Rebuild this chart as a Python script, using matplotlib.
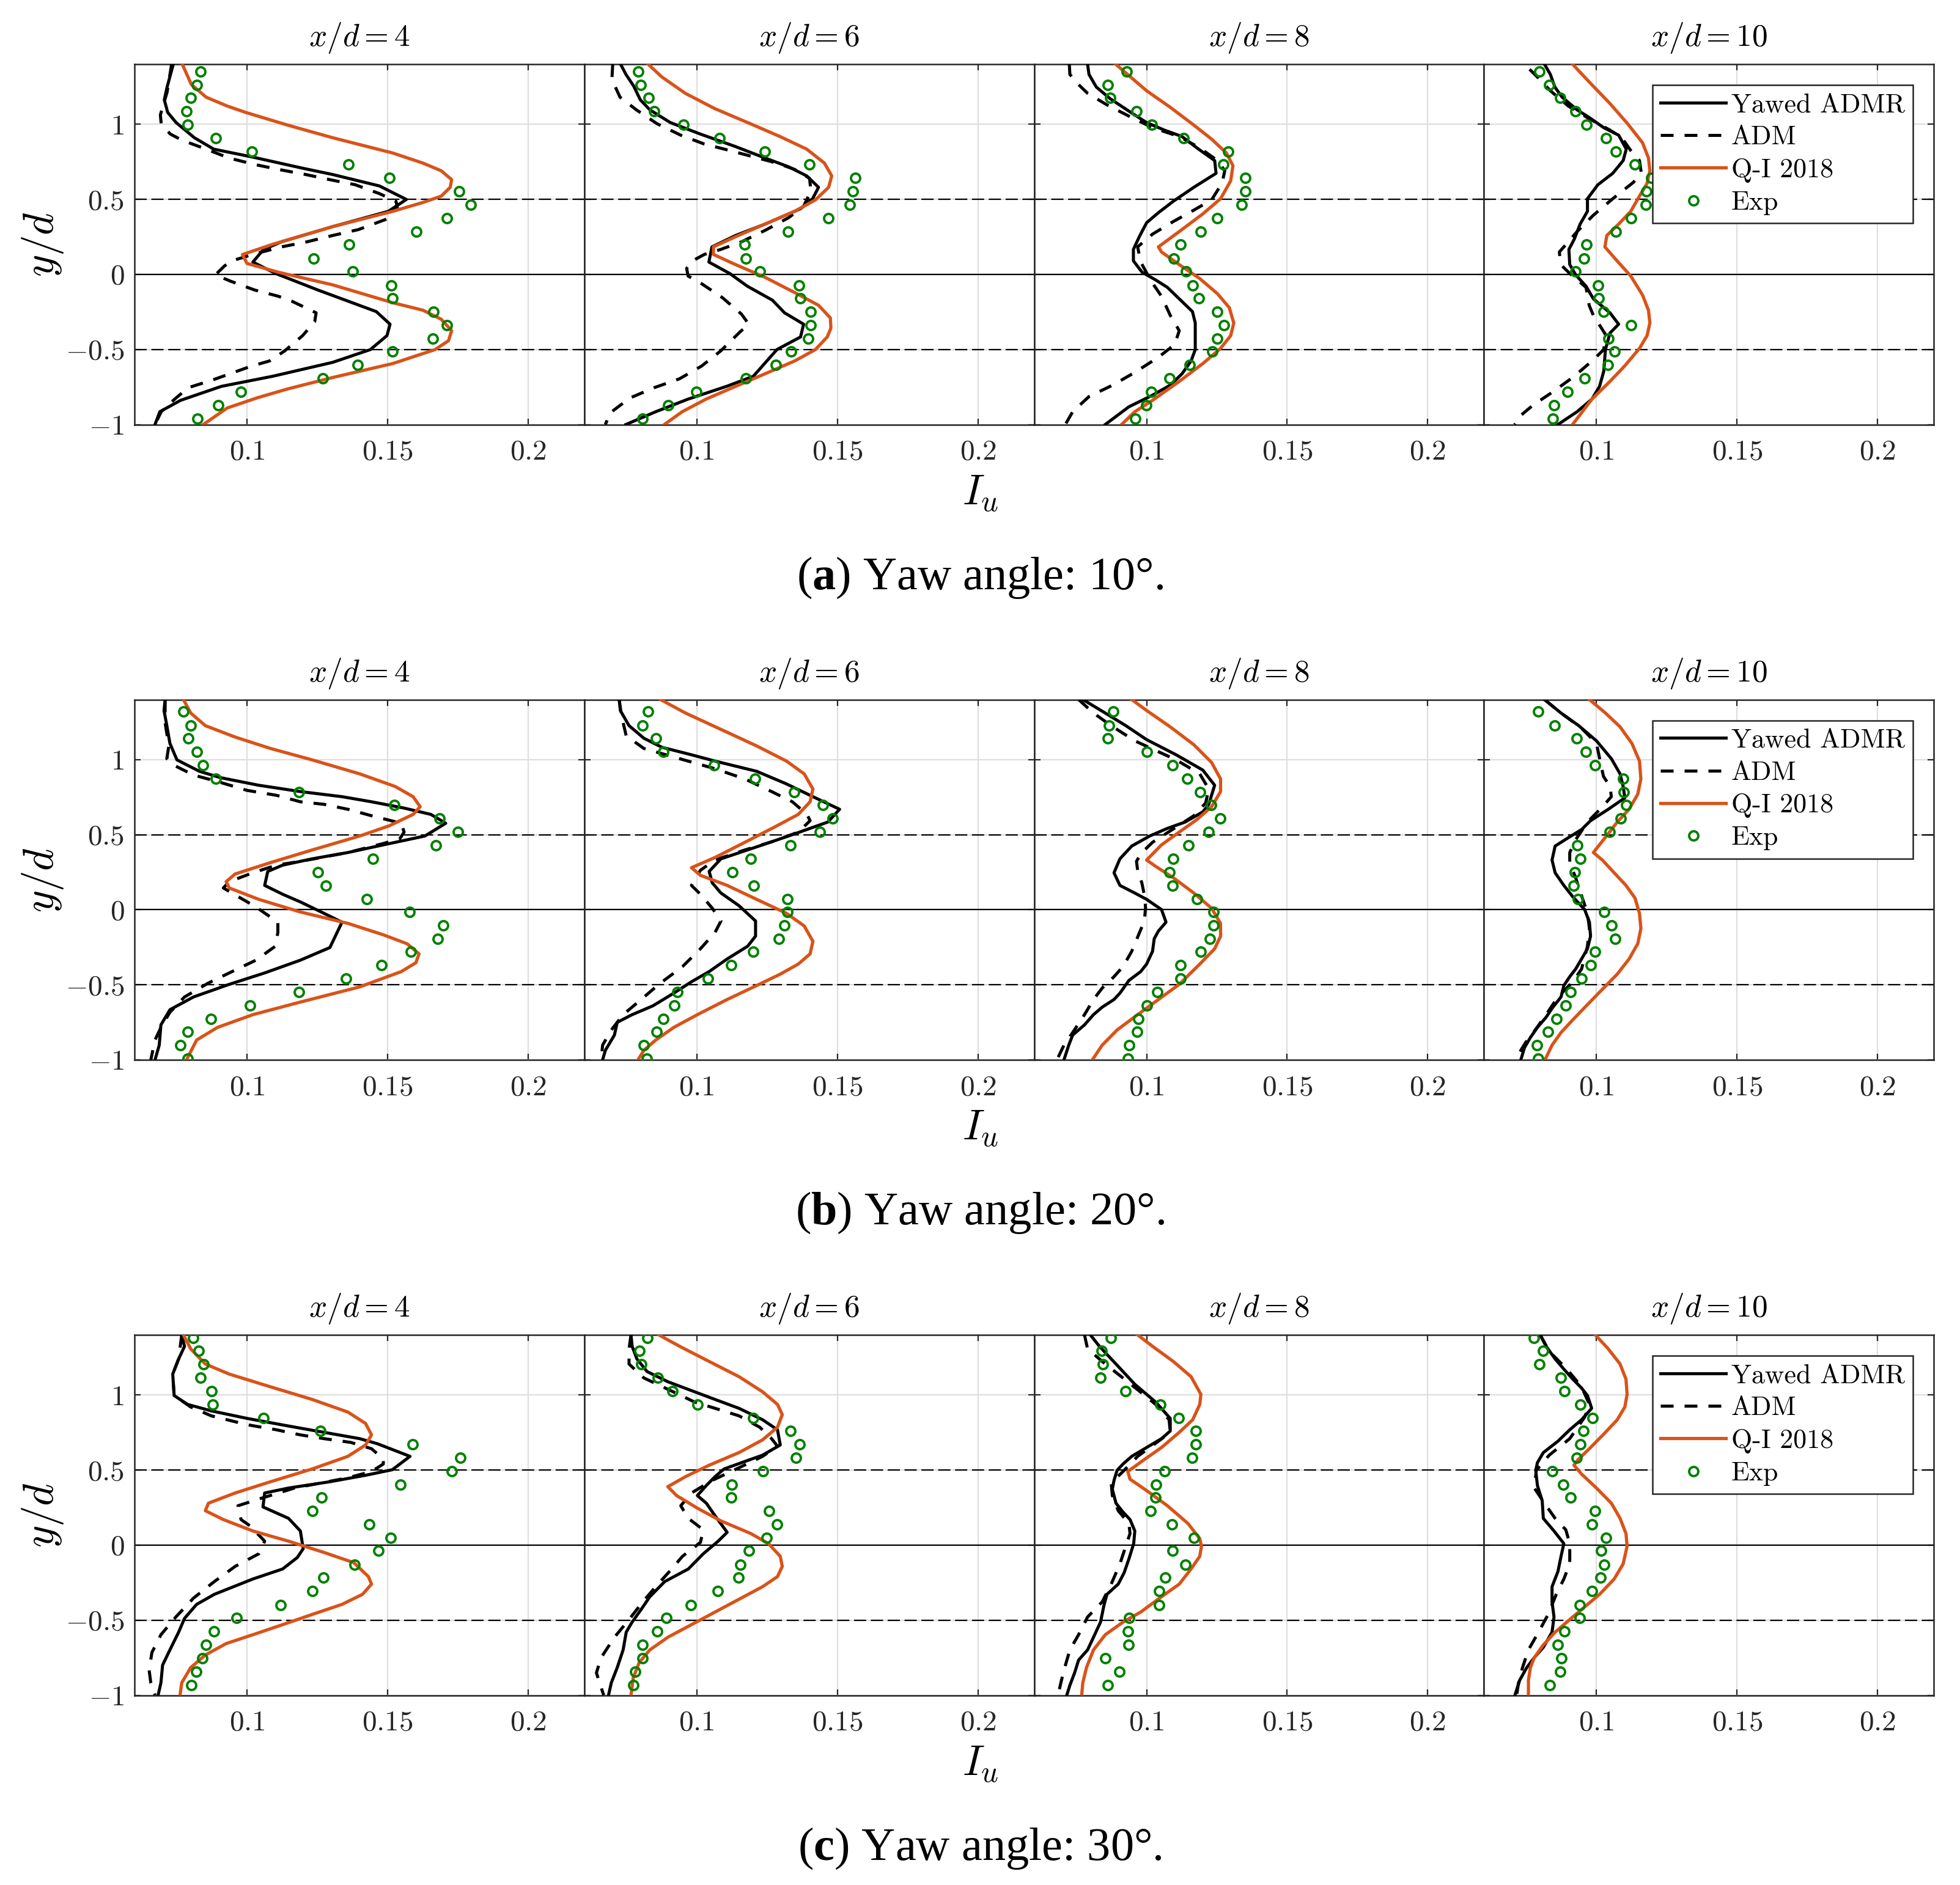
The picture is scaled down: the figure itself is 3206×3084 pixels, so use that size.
import matplotlib
matplotlib.use("Agg")
import matplotlib.pyplot as plt

plt.rcParams['mathtext.fontset'] = 'cm'
plt.rcParams['font.family'] = ['cmr10', 'DejaVu Serif']
plt.rcParams['axes.formatter.use_mathtext'] = True
plt.rcParams['mathtext.rm'] = 'Liberation Serif'
plt.rcParams['mathtext.bf'] = 'Liberation Serif:bold'
plt.rcParams['mathtext.it'] = 'Liberation Serif:italic'

# ---------------- data ----------------
xd_labels = ['4', '6', '8', '10']
captions = [r'($\mathbf{a}$) Yaw angle: 10°.', r'($\mathbf{b}$) Yaw angle: 20°.', r'($\mathbf{c}$) Yaw angle: 30°.']
series_labels = ['Yawed ADMR', 'ADM', 'Q-I 2018', 'Exp']
x_ticks = [0.1, 0.15, 0.2]
x_tick_labels = [r'$0.1$', r'$0.15$', r'$0.2$']
y_ticks = [-1, -0.5, 0, 0.5, 1]
y_tick_labels = [r'$-1$', r'$-0.5$', r'$0$', r'$0.5$', r'$1$']
ref_solid_y = [0.0]
ref_dashed_y = [-0.5, 0.5]

# experimental y positions (per row)
a_exp_y = [1.353, 1.263, 1.175, 1.087, 0.998, 0.908, 0.819, 0.731, 0.641, 0.552, 0.462, 0.374, 0.286, 0.197, 0.107, 0.019, -0.072, -0.160, -0.249, -0.339, -0.427, -0.515, -0.604, -0.694, -0.782, -0.871, -0.961]
b_exp_y = [1.319, 1.229, 1.142, 1.052, 0.963, 0.871, 0.785, 0.697, 0.610, 0.520, 0.430, 0.339, 0.251, 0.162, 0.072, -0.015, -0.103, -0.193, -0.281, -0.370, -0.460, -0.549, -0.639, -0.728, -0.814, -0.902, -0.992]
c_exp_y = [1.380, 1.294, 1.206, 1.117, 1.026, 0.937, 0.847, 0.760, 0.670, 0.583, 0.493, 0.404, 0.316, 0.229, 0.139, 0.050, -0.039, -0.129, -0.216, -0.304, -0.398, -0.484, -0.574, -0.665, -0.754, -0.843, -0.931]

# ----- (a) yaw 10 -----
a4_ya_x = [0.0738, 0.0716, 0.0706, 0.0718, 0.0748, 0.0813, 0.0882, 0.1016, 0.1198, 0.1305, 0.1471, 0.1567, 0.1503, 0.1305, 0.1123, 0.1059, 0.1021, 0.1102, 0.1252, 0.1460, 0.1509, 0.1498, 0.1439, 0.1305, 0.1091, 0.0909, 0.0764, 0.0690, 0.0673]
a4_ya_y = [1.4, 1.248, 1.163, 1.079, 1.011, 0.910, 0.834, 0.783, 0.707, 0.665, 0.589, 0.499, 0.420, 0.318, 0.217, 0.166, 0.082, 0.006, -0.104, -0.248, -0.332, -0.408, -0.501, -0.586, -0.679, -0.746, -0.839, -0.915, -1.0]
a4_adm_x = [0.0732, 0.0716, 0.0692, 0.0695, 0.0727, 0.0770, 0.0855, 0.0936, 0.1027, 0.1112, 0.1209, 0.1294, 0.1385, 0.1471, 0.1530, 0.1535, 0.1498, 0.1396, 0.1305, 0.1214, 0.1123, 0.1027, 0.0946, 0.0920, 0.0888, 0.0941, 0.1027, 0.1112, 0.1161, 0.1246, 0.1241, 0.1198, 0.1134, 0.1080, 0.1016, 0.0877, 0.0791, 0.0743, 0.0695, 0.0673]
a4_adm_y = [1.4, 1.214, 1.062, 1.003, 0.935, 0.893, 0.834, 0.775, 0.732, 0.699, 0.665, 0.631, 0.597, 0.538, 0.487, 0.445, 0.369, 0.298, 0.259, 0.217, 0.183, 0.136, 0.090, 0.056, -0.003, -0.045, -0.104, -0.146, -0.180, -0.256, -0.315, -0.408, -0.510, -0.577, -0.611, -0.704, -0.755, -0.831, -0.915, -1.0]
a4_qi_x = [0.0770, 0.0802, 0.0855, 0.0930, 0.0995, 0.1145, 0.1305, 0.1519, 0.1626, 0.1691, 0.1728, 0.1723, 0.1691, 0.1626, 0.1519, 0.1305, 0.1091, 0.0984, 0.1000, 0.1112, 0.1305, 0.1519, 0.1626, 0.1691, 0.1728, 0.1717, 0.1669, 0.1519, 0.1305, 0.1145, 0.1037, 0.0930, 0.0845]
a4_qi_y = [1.4, 1.265, 1.180, 1.121, 1.079, 0.994, 0.910, 0.808, 0.741, 0.690, 0.631, 0.580, 0.521, 0.479, 0.420, 0.318, 0.200, 0.132, 0.073, 0.014, -0.070, -0.189, -0.239, -0.299, -0.375, -0.442, -0.501, -0.594, -0.687, -0.763, -0.822, -0.890, -1.0]
a4_exp_x = [0.0834, 0.0822, 0.0799, 0.0784, 0.0789, 0.0890, 0.1017, 0.1362, 0.1506, 0.1755, 0.1797, 0.1712, 0.1603, 0.1363, 0.1238, 0.1377, 0.1514, 0.1518, 0.1663, 0.1711, 0.1662, 0.1517, 0.1393, 0.1270, 0.0979, 0.0898, 0.0824]

a6_ya_x = [0.0729, 0.0748, 0.0775, 0.0799, 0.0833, 0.0906, 0.1012, 0.1138, 0.1243, 0.1327, 0.1391, 0.1433, 0.1412, 0.1369, 0.1243, 0.1138, 0.1054, 0.1043, 0.1117, 0.1180, 0.1269, 0.1312, 0.1380, 0.1369, 0.1285, 0.1201, 0.1106, 0.0969, 0.0854, 0.0748]
a6_ya_y = [1.4, 1.332, 1.256, 1.163, 1.096, 1.011, 0.935, 0.851, 0.775, 0.716, 0.656, 0.580, 0.504, 0.437, 0.335, 0.259, 0.183, 0.082, 0.006, -0.079, -0.172, -0.256, -0.332, -0.417, -0.501, -0.679, -0.746, -0.831, -0.915, -1.0]
a6_adm_x = [0.0701, 0.0698, 0.0727, 0.0785, 0.0859, 0.0943, 0.1027, 0.1117, 0.1201, 0.1285, 0.1348, 0.1401, 0.1406, 0.1380, 0.1327, 0.1243, 0.1159, 0.1085, 0.1027, 0.0985, 0.0964, 0.0969, 0.1017, 0.1091, 0.1159, 0.1185, 0.1154, 0.1085, 0.1017, 0.0938, 0.0848, 0.0764, 0.0727, 0.0691, 0.0675]
a6_adm_y = [1.4, 1.299, 1.180, 1.096, 1.003, 0.927, 0.868, 0.825, 0.783, 0.741, 0.699, 0.640, 0.555, 0.454, 0.378, 0.293, 0.217, 0.166, 0.133, 0.090, 0.040, -0.011, -0.062, -0.155, -0.265, -0.332, -0.383, -0.510, -0.611, -0.696, -0.755, -0.822, -0.873, -0.924, -1.0]
a6_qi_x = [0.0827, 0.0875, 0.0959, 0.1064, 0.1191, 0.1296, 0.1391, 0.1454, 0.1480, 0.1469, 0.1422, 0.1348, 0.1243, 0.1138, 0.1059, 0.1059, 0.1138, 0.1243, 0.1348, 0.1433, 0.1475, 0.1477, 0.1464, 0.1422, 0.1348, 0.1243, 0.1138, 0.1033, 0.0948, 0.0885]
a6_qi_y = [1.4, 1.316, 1.206, 1.104, 1.003, 0.918, 0.834, 0.741, 0.656, 0.580, 0.496, 0.420, 0.335, 0.251, 0.183, 0.133, 0.065, -0.020, -0.121, -0.206, -0.290, -0.358, -0.417, -0.501, -0.577, -0.662, -0.746, -0.831, -0.915, -1.0]
a6_exp_x = [0.0791, 0.0801, 0.0828, 0.0848, 0.0952, 0.1081, 0.1241, 0.1401, 0.1564, 0.1555, 0.1545, 0.1467, 0.1324, 0.1171, 0.1175, 0.1225, 0.1363, 0.1367, 0.1406, 0.1406, 0.1396, 0.1336, 0.1282, 0.1174, 0.0998, 0.0899, 0.0807]

a8_ya_x = [0.0790, 0.0795, 0.0821, 0.0869, 0.0937, 0.1000, 0.1063, 0.1126, 0.1179, 0.1242, 0.1247, 0.1168, 0.1095, 0.1042, 0.1000, 0.0974, 0.0953, 0.0953, 0.0984, 0.1032, 0.1074, 0.1116, 0.1163, 0.1173, 0.1173, 0.1158, 0.1126, 0.1084, 0.1021, 0.0937, 0.0853]
a8_ya_y = [1.4, 1.332, 1.248, 1.172, 1.087, 1.011, 0.961, 0.918, 0.842, 0.758, 0.673, 0.580, 0.487, 0.411, 0.344, 0.251, 0.166, 0.090, 0.014, -0.037, -0.087, -0.163, -0.248, -0.324, -0.501, -0.577, -0.662, -0.738, -0.805, -0.882, -1.0]
a8_adm_x = [0.0725, 0.0727, 0.0753, 0.0790, 0.0858, 0.0937, 0.1021, 0.1116, 0.1189, 0.1252, 0.1278, 0.1268, 0.1231, 0.1168, 0.1095, 0.1021, 0.0968, 0.0979, 0.1016, 0.1053, 0.1084, 0.1116, 0.1100, 0.1042, 0.0958, 0.0879, 0.0795, 0.0737, 0.0711]
a8_adm_y = [1.4, 1.332, 1.273, 1.206, 1.130, 1.054, 0.977, 0.918, 0.842, 0.758, 0.690, 0.606, 0.496, 0.428, 0.352, 0.268, 0.183, 0.082, -0.045, -0.146, -0.273, -0.375, -0.467, -0.552, -0.653, -0.738, -0.814, -0.915, -1.0]
a8_qi_x = [0.0890, 0.0937, 0.1000, 0.1084, 0.1168, 0.1231, 0.1284, 0.1307, 0.1299, 0.1263, 0.1200, 0.1116, 0.1042, 0.1053, 0.1116, 0.1189, 0.1252, 0.1294, 0.1310, 0.1299, 0.1263, 0.1200, 0.1116, 0.1021, 0.0958, 0.0911]
a8_qi_y = [1.4, 1.324, 1.223, 1.113, 0.994, 0.901, 0.808, 0.724, 0.623, 0.504, 0.403, 0.285, 0.183, 0.149, 0.065, -0.028, -0.129, -0.222, -0.324, -0.408, -0.493, -0.594, -0.713, -0.839, -0.915, -1.0]
a8_exp_x = [0.0929, 0.0862, 0.0870, 0.0965, 0.1018, 0.1132, 0.1291, 0.1273, 0.1351, 0.1352, 0.1337, 0.1252, 0.1193, 0.1120, 0.1097, 0.1140, 0.1164, 0.1186, 0.1250, 0.1274, 0.1252, 0.1233, 0.1154, 0.1081, 0.1017, 0.0998, 0.0959]

a10_ya_x = [0.0815, 0.0836, 0.0852, 0.0878, 0.0931, 0.0974, 0.1026, 0.1079, 0.1106, 0.1095, 0.1058, 0.1005, 0.0968, 0.0968, 0.0942, 0.0921, 0.0902, 0.0905, 0.0926, 0.0963, 0.0989, 0.1048, 0.1079, 0.1048, 0.1032, 0.1026, 0.1011, 0.0984, 0.0931, 0.0863]
a10_ya_y = [1.4, 1.332, 1.248, 1.180, 1.096, 1.045, 0.977, 0.927, 0.834, 0.758, 0.673, 0.597, 0.504, 0.420, 0.335, 0.234, 0.166, 0.065, -0.003, -0.079, -0.163, -0.256, -0.332, -0.391, -0.501, -0.645, -0.746, -0.831, -0.915, -1.0]
a10_adm_x = [0.0762, 0.0794, 0.0836, 0.0900, 0.0974, 0.1048, 0.1090, 0.1122, 0.1153, 0.1159, 0.1132, 0.1058, 0.0989, 0.0931, 0.0900, 0.0868, 0.0873, 0.0905, 0.0963, 0.0974, 0.0989, 0.1032, 0.1026, 0.0989, 0.0921, 0.0847, 0.0773, 0.0730, 0.0709]
a10_adm_y = [1.366, 1.307, 1.223, 1.121, 1.037, 0.961, 0.910, 0.825, 0.758, 0.682, 0.614, 0.504, 0.394, 0.285, 0.217, 0.149, 0.065, 0.006, -0.087, -0.206, -0.273, -0.400, -0.501, -0.569, -0.679, -0.780, -0.873, -0.941, -1.0]
a10_qi_x = [0.0915, 0.0974, 0.1048, 0.1111, 0.1164, 0.1185, 0.1190, 0.1180, 0.1153, 0.1122, 0.1079, 0.1037, 0.1030, 0.1069, 0.1122, 0.1164, 0.1185, 0.1190, 0.1180, 0.1153, 0.1100, 0.1048, 0.0984, 0.0915]
a10_qi_y = [1.4, 1.282, 1.138, 1.003, 0.876, 0.775, 0.690, 0.606, 0.521, 0.420, 0.335, 0.259, 0.183, 0.099, -0.011, -0.138, -0.239, -0.324, -0.408, -0.493, -0.611, -0.713, -0.831, -1.0]
a10_exp_x = [0.0796, 0.0832, 0.0870, 0.0925, 0.0965, 0.1034, 0.1069, 0.1136, 0.1196, 0.1177, 0.1175, 0.1124, 0.1069, 0.0965, 0.0956, 0.0926, 0.1005, 0.1007, 0.1026, 0.1124, 0.1043, 0.1064, 0.1040, 0.0959, 0.0896, 0.0850, 0.0845]

# ----- (b) yaw 20 -----
b4_ya_x = [0.0709, 0.0705, 0.0715, 0.0726, 0.0751, 0.0831, 0.0905, 0.1042, 0.1190, 0.1338, 0.1443, 0.1559, 0.1654, 0.1707, 0.1633, 0.1485, 0.1359, 0.1232, 0.1127, 0.1074, 0.1063, 0.1127, 0.1190, 0.1274, 0.1338, 0.1295, 0.1190, 0.1063, 0.0937, 0.0810, 0.0726, 0.0694, 0.0688, 0.0673]
b4_ya_y = [1.4, 1.327, 1.226, 1.108, 0.998, 0.922, 0.880, 0.829, 0.787, 0.753, 0.719, 0.677, 0.635, 0.576, 0.491, 0.432, 0.381, 0.339, 0.297, 0.255, 0.162, 0.103, 0.052, -0.024, -0.083, -0.252, -0.336, -0.421, -0.497, -0.581, -0.666, -0.767, -0.902, -1.0]
b4_adm_x = [0.0709, 0.0709, 0.0722, 0.0715, 0.0747, 0.0810, 0.0895, 0.1000, 0.1105, 0.1190, 0.1274, 0.1359, 0.1443, 0.1549, 0.1559, 0.1544, 0.1485, 0.1359, 0.1190, 0.1105, 0.1021, 0.0937, 0.0916, 0.0947, 0.1032, 0.1110, 0.1110, 0.1101, 0.1032, 0.0947, 0.0863, 0.0778, 0.0726, 0.0694, 0.0673, 0.0658]
b4_adm_y = [1.4, 1.243, 1.091, 1.006, 0.956, 0.897, 0.854, 0.795, 0.762, 0.719, 0.702, 0.669, 0.626, 0.576, 0.517, 0.474, 0.441, 0.381, 0.322, 0.297, 0.246, 0.187, 0.145, 0.111, 0.018, -0.083, -0.151, -0.243, -0.336, -0.412, -0.488, -0.581, -0.683, -0.784, -0.868, -1.0]
b4_qi_x = [0.0774, 0.0800, 0.0852, 0.0958, 0.1084, 0.1232, 0.1401, 0.1527, 0.1591, 0.1616, 0.1591, 0.1506, 0.1401, 0.1232, 0.1084, 0.0958, 0.0926, 0.0937, 0.1042, 0.1190, 0.1359, 0.1485, 0.1570, 0.1612, 0.1601, 0.1549, 0.1401, 0.1190, 0.1021, 0.0895, 0.0821, 0.0785]
b4_qi_y = [1.4, 1.310, 1.226, 1.150, 1.074, 0.998, 0.905, 0.821, 0.753, 0.686, 0.635, 0.559, 0.491, 0.398, 0.314, 0.238, 0.187, 0.145, 0.069, -0.015, -0.091, -0.167, -0.227, -0.294, -0.353, -0.412, -0.514, -0.615, -0.699, -0.784, -0.868, -1.0]
b4_exp_x = [0.0774, 0.0800, 0.0791, 0.0821, 0.0844, 0.0890, 0.1186, 0.1525, 0.1684, 0.1751, 0.1673, 0.1447, 0.1253, 0.1281, 0.1426, 0.1578, 0.1698, 0.1679, 0.1582, 0.1479, 0.1352, 0.1184, 0.1011, 0.0871, 0.0789, 0.0764, 0.0789]

b6_ya_x = [0.0724, 0.0728, 0.0759, 0.0812, 0.0876, 0.0981, 0.1065, 0.1213, 0.1319, 0.1413, 0.1508, 0.1466, 0.1340, 0.1234, 0.1086, 0.1044, 0.1055, 0.1086, 0.1150, 0.1209, 0.1209, 0.1181, 0.1108, 0.1044, 0.0981, 0.0918, 0.0844, 0.0770, 0.0717, 0.0707, 0.0675, 0.0665]
b6_ya_y = [1.4, 1.327, 1.226, 1.142, 1.082, 1.032, 0.990, 0.922, 0.838, 0.753, 0.669, 0.584, 0.500, 0.432, 0.339, 0.255, 0.179, 0.111, 0.027, -0.075, -0.176, -0.243, -0.328, -0.412, -0.480, -0.556, -0.640, -0.699, -0.750, -0.835, -0.936, -1.0]
b6_adm_x = [0.0724, 0.0732, 0.0749, 0.0812, 0.0939, 0.1065, 0.1171, 0.1266, 0.1340, 0.1392, 0.1403, 0.1361, 0.1276, 0.1171, 0.1065, 0.1013, 0.0981, 0.1013, 0.1055, 0.1086, 0.1065, 0.1013, 0.0949, 0.0865, 0.0802, 0.0738, 0.0696, 0.0665, 0.0660]
b6_adm_y = [1.4, 1.294, 1.158, 1.074, 1.006, 0.939, 0.871, 0.787, 0.719, 0.635, 0.593, 0.517, 0.458, 0.398, 0.331, 0.263, 0.162, 0.103, 0.010, -0.075, -0.151, -0.260, -0.379, -0.497, -0.598, -0.699, -0.801, -0.902, -1.0]
b6_qi_x = [0.0871, 0.0960, 0.1086, 0.1213, 0.1319, 0.1382, 0.1413, 0.1403, 0.1361, 0.1276, 0.1171, 0.1065, 0.0981, 0.1013, 0.1108, 0.1213, 0.1319, 0.1382, 0.1413, 0.1403, 0.1361, 0.1297, 0.1213, 0.1108, 0.1002, 0.0918, 0.0854, 0.0812, 0.0791]
b6_qi_y = [1.4, 1.310, 1.201, 1.091, 0.990, 0.905, 0.804, 0.719, 0.635, 0.550, 0.449, 0.348, 0.280, 0.229, 0.162, 0.069, -0.024, -0.108, -0.210, -0.294, -0.362, -0.429, -0.505, -0.598, -0.699, -0.784, -0.868, -0.936, -1.0]
b6_exp_x = [0.0827, 0.0808, 0.0854, 0.0880, 0.1061, 0.1207, 0.1346, 0.1449, 0.1483, 0.1437, 0.1333, 0.1192, 0.1127, 0.1203, 0.1323, 0.1323, 0.1312, 0.1293, 0.1200, 0.1122, 0.1040, 0.0932, 0.0920, 0.0882, 0.0857, 0.0812, 0.0823]

b8_ya_x = [0.0773, 0.0853, 0.0926, 0.1000, 0.1105, 0.1200, 0.1242, 0.1221, 0.1200, 0.1137, 0.1074, 0.1011, 0.0947, 0.0905, 0.0884, 0.0905, 0.0958, 0.1000, 0.1053, 0.1069, 0.1042, 0.1027, 0.1021, 0.1000, 0.0979, 0.0937, 0.0905, 0.0884, 0.0842, 0.0811, 0.0779, 0.0737, 0.0723, 0.0706]
b8_ya_y = [1.4, 1.310, 1.226, 1.133, 1.032, 0.930, 0.829, 0.702, 0.652, 0.584, 0.542, 0.491, 0.424, 0.339, 0.246, 0.162, 0.111, 0.069, 0.001, -0.083, -0.142, -0.193, -0.277, -0.362, -0.412, -0.471, -0.556, -0.598, -0.649, -0.699, -0.767, -0.835, -0.902, -1.0]
b8_adm_x = [0.0758, 0.0811, 0.0874, 0.0958, 0.1105, 0.1189, 0.1221, 0.1210, 0.1168, 0.1084, 0.1021, 0.0979, 0.0964, 0.0968, 0.0983, 0.0994, 0.0996, 0.0992, 0.0975, 0.0947, 0.0916, 0.0884, 0.0842, 0.0811, 0.0779, 0.0737, 0.0706, 0.0681]
b8_adm_y = [1.4, 1.310, 1.226, 1.125, 0.998, 0.905, 0.804, 0.711, 0.626, 0.525, 0.449, 0.373, 0.322, 0.263, 0.179, 0.078, 0.010, -0.075, -0.151, -0.277, -0.379, -0.446, -0.522, -0.598, -0.699, -0.818, -0.902, -1.0]
b8_qi_x = [0.0947, 0.1000, 0.1084, 0.1168, 0.1231, 0.1263, 0.1263, 0.1231, 0.1179, 0.1116, 0.1053, 0.1000, 0.1032, 0.1095, 0.1168, 0.1231, 0.1263, 0.1263, 0.1242, 0.1189, 0.1116, 0.1042, 0.0968, 0.0895, 0.0842, 0.0807]
b8_qi_y = [1.4, 1.327, 1.218, 1.099, 0.981, 0.871, 0.787, 0.686, 0.601, 0.517, 0.432, 0.331, 0.289, 0.213, 0.111, 0.010, -0.091, -0.176, -0.260, -0.362, -0.497, -0.598, -0.699, -0.801, -0.902, -1.0]
b8_exp_x = [0.0882, 0.0866, 0.0861, 0.1000, 0.1092, 0.1145, 0.1191, 0.1229, 0.1263, 0.1221, 0.1149, 0.1095, 0.1082, 0.1092, 0.1179, 0.1239, 0.1237, 0.1225, 0.1193, 0.1120, 0.1120, 0.1038, 0.1000, 0.0971, 0.0966, 0.0937, 0.0933]

b10_ya_x = [0.0815, 0.0874, 0.0937, 0.1000, 0.1053, 0.1084, 0.1095, 0.1101, 0.1042, 0.0979, 0.0947, 0.0895, 0.0853, 0.0842, 0.0853, 0.0884, 0.0916, 0.0958, 0.0975, 0.0979, 0.0968, 0.0947, 0.0926, 0.0905, 0.0884, 0.0874, 0.0842, 0.0821, 0.0790, 0.0765, 0.0744, 0.0731]
b10_ya_y = [1.4, 1.310, 1.226, 1.125, 1.006, 0.905, 0.821, 0.745, 0.669, 0.593, 0.534, 0.474, 0.424, 0.331, 0.246, 0.162, 0.086, 0.001, -0.083, -0.176, -0.260, -0.328, -0.395, -0.446, -0.505, -0.581, -0.657, -0.716, -0.784, -0.851, -0.919, -1.0]
b10_adm_x = [0.0815, 0.0874, 0.0947, 0.1000, 0.1017, 0.1025, 0.1048, 0.1053, 0.1017, 0.0968, 0.0926, 0.0905, 0.0905, 0.0926, 0.0947, 0.0968, 0.0975, 0.0968, 0.0947, 0.0916, 0.0863, 0.0821, 0.0779, 0.0748, 0.0710]
b10_adm_y = [1.4, 1.310, 1.209, 1.108, 0.956, 0.888, 0.821, 0.753, 0.677, 0.584, 0.466, 0.381, 0.314, 0.213, 0.094, -0.024, -0.125, -0.243, -0.395, -0.480, -0.581, -0.699, -0.809, -0.885, -1.0]
b10_qi_x = [0.0975, 0.1032, 0.1084, 0.1126, 0.1153, 0.1158, 0.1147, 0.1116, 0.1074, 0.1032, 0.0989, 0.1021, 0.1063, 0.1105, 0.1137, 0.1153, 0.1158, 0.1147, 0.1116, 0.1074, 0.1021, 0.0968, 0.0916, 0.0874, 0.0842, 0.0817]
b10_qi_y = [1.4, 1.310, 1.218, 1.108, 0.990, 0.871, 0.770, 0.669, 0.584, 0.483, 0.381, 0.331, 0.246, 0.162, 0.078, -0.024, -0.125, -0.226, -0.328, -0.429, -0.530, -0.632, -0.733, -0.818, -0.902, -1.0]
b10_exp_x = [0.0792, 0.0851, 0.0929, 0.0962, 0.0994, 0.1095, 0.1097, 0.1105, 0.1086, 0.1048, 0.0931, 0.0943, 0.0924, 0.0918, 0.0933, 0.1027, 0.1053, 0.1067, 0.0994, 0.0979, 0.0947, 0.0908, 0.0891, 0.0857, 0.0828, 0.0788, 0.0792]

# ----- (c) yaw 30 -----
c4_ya_x = [0.0768, 0.0778, 0.0757, 0.0736, 0.0741, 0.0789, 0.0873, 0.1000, 0.1148, 0.1274, 0.1401, 0.1464, 0.1580, 0.1517, 0.1422, 0.1295, 0.1148, 0.1063, 0.1057, 0.1148, 0.1190, 0.1200, 0.1179, 0.1127, 0.1021, 0.0884, 0.0821, 0.0778, 0.0757, 0.0726, 0.0700, 0.0694, 0.0684]
c4_ya_y = [1.4, 1.324, 1.240, 1.139, 0.996, 0.937, 0.894, 0.844, 0.793, 0.751, 0.709, 0.675, 0.591, 0.502, 0.465, 0.422, 0.380, 0.347, 0.254, 0.178, 0.094, -0.024, -0.083, -0.159, -0.226, -0.328, -0.395, -0.488, -0.580, -0.698, -0.799, -0.917, -1.0]
c4_adm_x = [0.0768, 0.0757, 0.0736, 0.0741, 0.0800, 0.0873, 0.1000, 0.1105, 0.1190, 0.1274, 0.1369, 0.1443, 0.1485, 0.1485, 0.1443, 0.1359, 0.1169, 0.1053, 0.0968, 0.0979, 0.1011, 0.1063, 0.1042, 0.0958, 0.0884, 0.0810, 0.0747, 0.0694, 0.0662, 0.0652, 0.0658, 0.0673]
c4_adm_y = [1.4, 1.240, 1.139, 0.996, 0.920, 0.861, 0.802, 0.768, 0.734, 0.709, 0.684, 0.642, 0.574, 0.540, 0.490, 0.448, 0.380, 0.313, 0.262, 0.170, 0.128, 0.026, -0.058, -0.142, -0.243, -0.353, -0.479, -0.597, -0.715, -0.833, -0.917, -1.0]
c4_qi_x = [0.0774, 0.0800, 0.0852, 0.0937, 0.1084, 0.1232, 0.1359, 0.1422, 0.1443, 0.1422, 0.1359, 0.1232, 0.1084, 0.0958, 0.0863, 0.0852, 0.0916, 0.1021, 0.1148, 0.1274, 0.1380, 0.1432, 0.1443, 0.1411, 0.1338, 0.1232, 0.1127, 0.1021, 0.0926, 0.0852, 0.0800, 0.0768, 0.0762]
c4_qi_y = [1.4, 1.307, 1.206, 1.139, 1.054, 0.970, 0.886, 0.810, 0.734, 0.667, 0.591, 0.507, 0.422, 0.347, 0.279, 0.229, 0.170, 0.094, 0.026, -0.049, -0.117, -0.210, -0.260, -0.328, -0.395, -0.462, -0.530, -0.597, -0.656, -0.732, -0.816, -0.917, -1.0]
c4_exp_x = [0.0808, 0.0829, 0.0846, 0.0835, 0.0873, 0.0878, 0.1059, 0.1262, 0.1589, 0.1759, 0.1728, 0.1546, 0.1266, 0.1232, 0.1435, 0.1511, 0.1468, 0.1382, 0.1272, 0.1232, 0.1120, 0.0964, 0.0882, 0.0854, 0.0842, 0.0819, 0.0802]

c6_ya_x = [0.0766, 0.0770, 0.0787, 0.0823, 0.0897, 0.0981, 0.1065, 0.1150, 0.1234, 0.1287, 0.1297, 0.1234, 0.1171, 0.1097, 0.1065, 0.1034, 0.1002, 0.1034, 0.1065, 0.1108, 0.1076, 0.1023, 0.0970, 0.0886, 0.0833, 0.0802, 0.0770, 0.0749, 0.0738, 0.0717, 0.0696, 0.0686]
c6_ya_y = [1.4, 1.324, 1.240, 1.156, 1.088, 1.029, 0.970, 0.911, 0.835, 0.768, 0.667, 0.599, 0.557, 0.507, 0.456, 0.397, 0.330, 0.279, 0.195, 0.085, 0.026, -0.058, -0.159, -0.243, -0.344, -0.429, -0.513, -0.580, -0.698, -0.816, -0.917, -1.0]
c6_adm_x = [0.0766, 0.0759, 0.0759, 0.0812, 0.0897, 0.0992, 0.1065, 0.1150, 0.1224, 0.1266, 0.1287, 0.1234, 0.1150, 0.1055, 0.0981, 0.0943, 0.0970, 0.1023, 0.1013, 0.0949, 0.0907, 0.0854, 0.0808, 0.0759, 0.0707, 0.0660, 0.0643, 0.0654, 0.0669]
c6_adm_y = [1.4, 1.307, 1.206, 1.113, 1.038, 0.953, 0.911, 0.861, 0.785, 0.709, 0.658, 0.591, 0.515, 0.431, 0.347, 0.262, 0.178, 0.102, 0.018, -0.075, -0.167, -0.277, -0.378, -0.496, -0.614, -0.749, -0.850, -0.917, -1.0]
c6_qi_x = [0.0865, 0.0939, 0.1044, 0.1150, 0.1234, 0.1287, 0.1304, 0.1287, 0.1234, 0.1150, 0.1044, 0.0960, 0.0897, 0.0928, 0.1002, 0.1086, 0.1192, 0.1255, 0.1297, 0.1304, 0.1287, 0.1234, 0.1150, 0.1065, 0.0981, 0.0897, 0.0833, 0.0795, 0.0774, 0.0766]
c6_qi_y = [1.4, 1.324, 1.223, 1.122, 1.021, 0.937, 0.869, 0.785, 0.701, 0.616, 0.532, 0.456, 0.389, 0.330, 0.246, 0.161, 0.077, 0.010, -0.075, -0.142, -0.210, -0.277, -0.361, -0.446, -0.530, -0.614, -0.698, -0.783, -0.884, -1.0]
c6_exp_x = [0.0825, 0.0797, 0.0802, 0.0861, 0.0914, 0.1002, 0.1200, 0.1333, 0.1365, 0.1352, 0.1236, 0.1124, 0.1122, 0.1257, 0.1285, 0.1249, 0.1186, 0.1156, 0.1148, 0.1074, 0.0979, 0.0892, 0.0859, 0.0808, 0.0808, 0.0781, 0.0774]

c8_ya_x = [0.0800, 0.0832, 0.0874, 0.0916, 0.0958, 0.1000, 0.1032, 0.1084, 0.1084, 0.1053, 0.1000, 0.0947, 0.0916, 0.0895, 0.0884, 0.0878, 0.0891, 0.0916, 0.0941, 0.0958, 0.0954, 0.0937, 0.0920, 0.0899, 0.0859, 0.0849, 0.0836, 0.0811, 0.0790, 0.0758, 0.0744, 0.0727, 0.0716]
c8_ya_y = [1.4, 1.324, 1.240, 1.156, 1.071, 1.004, 0.953, 0.844, 0.760, 0.709, 0.650, 0.591, 0.540, 0.498, 0.431, 0.372, 0.279, 0.220, 0.170, 0.094, 0.010, -0.092, -0.184, -0.260, -0.328, -0.395, -0.513, -0.614, -0.698, -0.766, -0.850, -0.934, -1.0]
c8_adm_x = [0.0779, 0.0790, 0.0853, 0.0916, 0.1000, 0.1032, 0.1080, 0.1084, 0.1042, 0.0968, 0.0916, 0.0874, 0.0878, 0.0899, 0.0937, 0.0941, 0.0926, 0.0905, 0.0874, 0.0842, 0.0790, 0.0758, 0.0727, 0.0706, 0.0695, 0.0685]
c8_adm_y = [1.4, 1.307, 1.206, 1.113, 0.987, 0.937, 0.835, 0.751, 0.692, 0.591, 0.490, 0.414, 0.330, 0.229, 0.144, 0.077, -0.007, -0.125, -0.260, -0.378, -0.479, -0.597, -0.698, -0.833, -0.917, -1.0]
c8_qi_x = [0.0968, 0.1021, 0.1095, 0.1158, 0.1193, 0.1189, 0.1164, 0.1116, 0.1053, 0.0989, 0.0933, 0.0941, 0.1000, 0.1074, 0.1147, 0.1189, 0.1195, 0.1189, 0.1158, 0.1116, 0.1053, 0.0979, 0.0916, 0.0853, 0.0811, 0.0786, 0.0773, 0.0769]
c8_qi_y = [1.4, 1.324, 1.223, 1.122, 1.004, 0.937, 0.835, 0.751, 0.650, 0.566, 0.490, 0.439, 0.363, 0.262, 0.144, 0.043, -0.007, -0.075, -0.159, -0.260, -0.344, -0.446, -0.513, -0.597, -0.698, -0.816, -0.917, -1.0]
c8_exp_x = [0.0872, 0.0840, 0.0845, 0.0836, 0.0924, 0.1048, 0.1113, 0.1174, 0.1174, 0.1162, 0.1065, 0.1034, 0.1032, 0.1015, 0.1090, 0.1168, 0.1092, 0.1137, 0.1067, 0.1044, 0.1044, 0.0937, 0.0933, 0.0935, 0.0853, 0.0903, 0.0861]

c10_ya_x = [0.0800, 0.0821, 0.0853, 0.0884, 0.0916, 0.0947, 0.0968, 0.0983, 0.0947, 0.0905, 0.0863, 0.0811, 0.0790, 0.0784, 0.0790, 0.0807, 0.0811, 0.0849, 0.0884, 0.0874, 0.0863, 0.0842, 0.0842, 0.0849, 0.0842, 0.0811, 0.0779, 0.0752, 0.0727, 0.0710]
c10_ya_y = [1.4, 1.324, 1.240, 1.172, 1.105, 1.046, 0.996, 0.911, 0.835, 0.768, 0.692, 0.616, 0.549, 0.498, 0.397, 0.296, 0.178, 0.094, 0.010, -0.075, -0.176, -0.277, -0.378, -0.479, -0.580, -0.681, -0.749, -0.816, -0.900, -1.0]
c10_adm_x = [0.0800, 0.0832, 0.0895, 0.0947, 0.0975, 0.0958, 0.0905, 0.0832, 0.0786, 0.0779, 0.0815, 0.0853, 0.0891, 0.0905, 0.0905, 0.0884, 0.0857, 0.0828, 0.0794, 0.0758, 0.0737, 0.0723, 0.0716]
c10_adm_y = [1.4, 1.290, 1.172, 1.054, 0.937, 0.852, 0.709, 0.599, 0.498, 0.380, 0.279, 0.178, 0.102, 0.010, -0.125, -0.226, -0.328, -0.462, -0.580, -0.698, -0.816, -0.917, -1.0]
c10_qi_x = [0.0996, 0.1042, 0.1084, 0.1105, 0.1109, 0.1101, 0.1074, 0.1032, 0.0979, 0.0933, 0.0920, 0.0947, 0.1000, 0.1053, 0.1084, 0.1105, 0.1109, 0.1095, 0.1063, 0.1011, 0.0958, 0.0905, 0.0853, 0.0811, 0.0779, 0.0765, 0.0758, 0.0758]
c10_qi_y = [1.4, 1.307, 1.206, 1.105, 1.004, 0.920, 0.835, 0.751, 0.650, 0.566, 0.532, 0.473, 0.380, 0.279, 0.178, 0.077, -0.007, -0.125, -0.226, -0.328, -0.412, -0.496, -0.580, -0.665, -0.749, -0.816, -0.900, -1.0]
c10_exp_x = [0.0777, 0.0811, 0.0798, 0.0874, 0.0887, 0.0943, 0.0987, 0.0954, 0.0943, 0.0929, 0.0842, 0.0882, 0.0908, 0.0994, 0.0983, 0.1034, 0.1017, 0.1027, 0.1015, 0.0983, 0.0941, 0.0941, 0.0887, 0.0863, 0.0876, 0.0872, 0.0834]

panels = [
    [(a4_ya_x, a4_ya_y, a4_adm_x, a4_adm_y, a4_qi_x, a4_qi_y, a4_exp_x, a_exp_y),
     (a6_ya_x, a6_ya_y, a6_adm_x, a6_adm_y, a6_qi_x, a6_qi_y, a6_exp_x, a_exp_y),
     (a8_ya_x, a8_ya_y, a8_adm_x, a8_adm_y, a8_qi_x, a8_qi_y, a8_exp_x, a_exp_y),
     (a10_ya_x, a10_ya_y, a10_adm_x, a10_adm_y, a10_qi_x, a10_qi_y, a10_exp_x, a_exp_y)],
    [(b4_ya_x, b4_ya_y, b4_adm_x, b4_adm_y, b4_qi_x, b4_qi_y, b4_exp_x, b_exp_y),
     (b6_ya_x, b6_ya_y, b6_adm_x, b6_adm_y, b6_qi_x, b6_qi_y, b6_exp_x, b_exp_y),
     (b8_ya_x, b8_ya_y, b8_adm_x, b8_adm_y, b8_qi_x, b8_qi_y, b8_exp_x, b_exp_y),
     (b10_ya_x, b10_ya_y, b10_adm_x, b10_adm_y, b10_qi_x, b10_qi_y, b10_exp_x, b_exp_y)],
    [(c4_ya_x, c4_ya_y, c4_adm_x, c4_adm_y, c4_qi_x, c4_qi_y, c4_exp_x, c_exp_y),
     (c6_ya_x, c6_ya_y, c6_adm_x, c6_adm_y, c6_qi_x, c6_qi_y, c6_exp_x, c_exp_y),
     (c8_ya_x, c8_ya_y, c8_adm_x, c8_adm_y, c8_qi_x, c8_qi_y, c8_exp_x, c_exp_y),
     (c10_ya_x, c10_ya_y, c10_adm_x, c10_adm_y, c10_qi_x, c10_qi_y, c10_exp_x, c_exp_y)],
]

# ---------------- layout / style ----------------
W, H, DPI = 3206, 3084, 200
ORANGE = '#D95319'
GREEN = '#008000'
AXC = '#262626'
AX_L, AX_W, AX_H = 220.0, 735.8, 589.5
ROW_TOP = [105.0, 1144.5, 2184.0]
ROW_STEP = 1039.5

fig = plt.figure(figsize=(W / DPI, H / DPI), dpi=DPI)
fig.patch.set_facecolor('white')

for r in range(3):
    top = ROW_TOP[r]
    for c in range(4):
        left = AX_L + c * AX_W
        ax = fig.add_axes([left / W, 1 - (top + AX_H) / H, AX_W / W, AX_H / H])
        ya_x, ya_y, adm_x, adm_y, qi_x, qi_y, ex_x, ex_y = panels[r][c]
        ax.set_xlim(0.06, 0.22)
        ax.set_ylim(-1, 1.4)
        ax.set_xticks(x_ticks)
        ax.set_xticklabels(x_tick_labels)
        ax.set_yticks(y_ticks)
        if c == 0:
            ax.set_yticklabels(y_tick_labels)
        else:
            ax.set_yticklabels([])
        ax.grid(True, color='#dedede', lw=0.8)
        ax.set_axisbelow(True)
        ax.tick_params(direction='in', length=3.5, width=0.8, color=AXC, top=True, right=True,
                       labelsize=17, labelcolor=AXC)
        ax.tick_params(axis='x', pad=9)
        ax.tick_params(axis='y', pad=6, labelleft=(c == 0))
        for s in ax.spines.values():
            s.set_color(AXC)
            s.set_linewidth(0.9)
        for yv in ref_solid_y:
            ax.axhline(yv, color='k', lw=0.8, zorder=1.5)
        for yv in ref_dashed_y:
            ax.axhline(yv, color='k', lw=0.8, dashes=(9, 3.4), zorder=1.5)

        ax.plot(ya_x, ya_y, color='k', lw=1.8, zorder=3, label=series_labels[0])
        ax.plot(adm_x, adm_y, color='k', lw=1.8, dashes=(4.2, 3.6), zorder=3, label=series_labels[1])
        ax.plot(qi_x, qi_y, color=ORANGE, lw=1.9, zorder=3.2, label=series_labels[2])
        ax.plot(ex_x, ex_y, ls='none', marker='o', ms=5.4, mfc='none', mec=GREEN, mew=1.4,
                zorder=4, label=series_labels[3])

        if c == 3:
            leg = ax.legend(loc='upper right', bbox_to_anchor=(0.9535, 0.9423), borderaxespad=0,
                            prop={'family': 'cmr10', 'size': 15.8}, frameon=True, fancybox=False,
                            edgecolor=AXC, framealpha=1, handlelength=2.44, handletextpad=0.2,
                            borderpad=0.3, labelspacing=0.3)
            leg.get_frame().set_linewidth(0.9)

        # panel title
        fig.text((left + AX_W / 2) / W, 1 - (top - 30) / H, r'$x/d=$' + xd_labels[c],
                 ha='center', va='baseline', fontsize=18.5)

    # y label
    fig.text(70 / W, 1 - (top + AX_H / 2) / H, r'$y/d$', rotation=90, ha='center', va='center',
             fontsize=25)
    # x label
    fig.text(0.5, 1 - (808 + r * ROW_STEP) / H, r'$I_u$', ha='center', va='center', fontsize=25)
    # caption
    fig.text(0.5, 1 - (945 + r * ROW_STEP) / H, captions[r], ha='center', va='center',
             fontsize=27.5, family='Liberation Serif', math_fontfamily='custom')

fig.savefig('out.png', dpi=DPI, facecolor='white')
